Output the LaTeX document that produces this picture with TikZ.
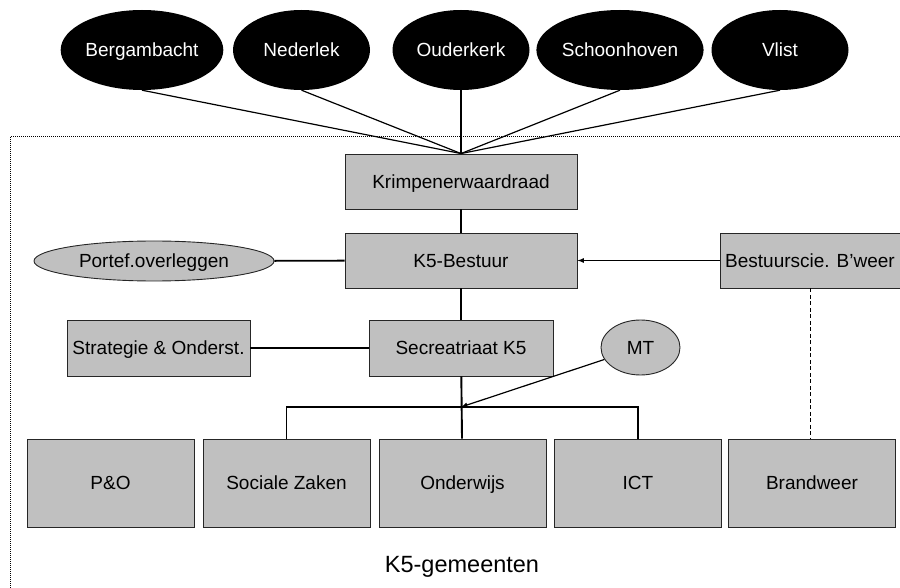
\documentclass[tikz,border=0pt]{standalone}
\usepackage{fontspec}
\setmainfont{Liberation Sans}
\usepackage{tikz}
\usetikzlibrary{shapes,arrows,positioning,calc}

\definecolor{vakgrijs}{RGB}{192,192,192}

\begin{document}
\begin{tikzpicture}[x=1pt,y=-1pt,
    every node/.style={font=\fontsize{19}{22}\selectfont, inner sep=1pt, text height=13.6pt, text depth=0pt},
    gemeente/.style={ellipse, fill=black, text=white, minimum width=137, minimum height=80},
    vak/.style={rectangle, draw=black!85, line width=0.9pt, fill=vakgrijs},
    ovaal/.style={ellipse, draw=black!85, line width=0.9pt, fill=vakgrijs},
    lijn/.style={line width=1.9pt},
    dun/.style={line width=1.2pt}]
  \useasboundingbox (0,0) rectangle (900,588);
  \clip (0,0) rectangle (900,588);
  %kader
  \draw[densely dotted, line width=1pt] (10,137) rectangle (920,620);
  %gemeenten
  \node [gemeente] (berg) at (142,50) {Bergambacht};
  \node [gemeente] (neder) at (301.5,50) {Nederlek};
  \node [gemeente] (ouder) at (461,50) {Ouderkerk};
  \node [gemeente] (schoon) at (620,50) {Schoonhoven};
  \node [gemeente] (vlist) at (780,50) {Vlist};
  %bestuur
  \node [vak, minimum width=232, minimum height=55] (raad) at (461,181.5) {Krimpenerwaardraad};
  \node [vak, minimum width=232, minimum height=55] (bestuur) at (461,260.5) {K5-Bestuur};
  \node [ovaal, minimum width=240, minimum height=40] (portef) at (154,261) {Portef.overleggen};
  \node [vak, minimum width=180, minimum height=55] (bwcie) at (810,260.5) {Bestuurscie. B’weer};
  \node [vak, minimum width=183, minimum height=56] (strat) at (158.5,348) {Strategie \& Onderst.};
  \node [vak, minimum width=184, minimum height=56] (secr) at (461,348) {Secreatriaat K5};
  \node [ovaal, minimum width=79, minimum height=55] (mt) at (640.5,347.5) {MT};
  %afdelingen
  \node [vak, minimum width=167, minimum height=88] (po) at (110.5,483) {P\&O};
  \node [vak, minimum width=167, minimum height=88] (soza) at (286.5,483) {Sociale Zaken};
  \node [vak, minimum width=167, minimum height=88] (onderwijs) at (462.5,483) {Onderwijs};
  \node [vak, minimum width=167, minimum height=88] (ict) at (638,483) {ICT};
  \node [vak, minimum width=167, minimum height=88] (brandweer) at (812,483) {Brandweer};
  \node [font=\fontsize{23.5}{26}\selectfont, text height=16.8pt] (k5) at (462,564) {K5-gemeenten};
  \coordinate (tak) at (461,407);

  \foreach \g in {berg,neder,ouder,schoon,vlist}
    \draw [dun] (\g.south) -- (raad.north);
  \draw [lijn] (raad) -- (bestuur);
  \draw [lijn] (portef) -- (bestuur);
  \draw [lijn] (bestuur) -- (secr);
  \draw [lijn] (strat) -- (secr);
  \draw [lijn] (secr) -- (onderwijs);
  \draw [dun, -latex] (bwcie) -- (bestuur);
  \draw [line width=0.9pt, dash pattern=on 4pt off 2.5pt] (bwcie.south) -- (bwcie.south |- brandweer.north);
  \draw [dun] (soza.north) |- (tak) -| (ict.north);
  \draw [dun, -latex] (mt) -- (tak);
\end{tikzpicture}
\end{document}
